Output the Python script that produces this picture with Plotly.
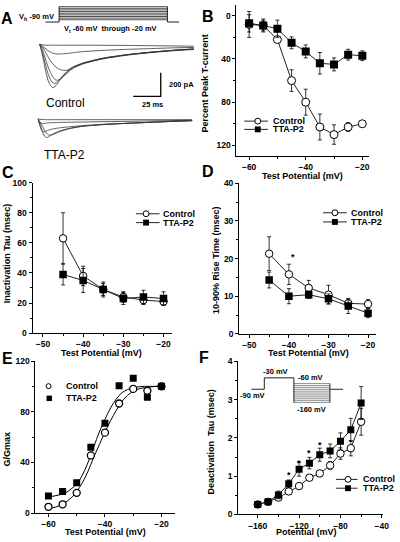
import plotly.graph_objects as go

# ---------------- data ----------------
# Panel A: current traces (time in ms, current in pA)
A_T_CTRL = [0, 2, 4, 6, 8, 10, 12, 14, 16, 18, 20, 24, 28, 32, 40, 50, 60, 80, 100, 120, 140]
A_CTRL_M60 = [0, -3, -6, -8, -8, -8, -8, -8, -8, -8, -8, -8, -8, -8, -8, -8, -9, -10, -12, -14, -17]
A_CTRL_M55 = [0, -10, -25, -40, -55, -66, -75, -80, -83, -83, -82, -79, -75, -70, -62, -56, -51, -43, -37, -31, -27]
A_CTRL_M50 = [0, -15, -40, -75, -110, -140, -165, -185, -200, -212, -219, -222, -212, -195, -165, -140, -120, -92, -72, -56, -44]
A_CTRL_M45 = [0, -30, -80, -140, -195, -240, -275, -298, -306, -300, -290, -255, -222, -195, -162, -137, -116, -89, -69, -53, -41]
A_CTRL_M40 = [0, -45, -115, -190, -255, -300, -325, -333, -325, -305, -285, -245, -212, -190, -160, -135, -115, -88, -68, -52, -40]
A_CTRL_M35 = [0, -60, -150, -240, -310, -350, -367, -360, -340, -310, -280, -240, -205, -185, -158, -134, -114, -88, -68, -52, -40]

A_T_TTA = [0, 2, 4, 6, 8, 10, 14, 20, 28, 40, 60, 80, 100, 120, 140]
A_TTA_1 = [0, -3, -5, -6, -7, -7, -7, -7, -7, -7, -7, -7, -7, -7, -7]
A_TTA_2 = [0, -30, -40, -38, -36, -34, -32, -30, -29, -27, -24, -21, -18, -15, -12]
A_TTA_3 = [0, -60, -105, -110, -102, -95, -85, -76, -68, -58, -46, -38, -30, -22, -15]
A_TTA_4 = [0, -45, -100, -145, -158, -152, -128, -102, -82, -63, -48, -38, -30, -22, -15]
A_TTA_5 = [0, -25, -60, -95, -122, -138, -132, -108, -85, -64, -48, -38, -30, -22, -15]

SCALE_MS = 25
SCALE_PA = 200

# Panel A protocol (schematic)
A_STEP_MV = [-60, -55, -50, -45, -40, -35, -30, -25, -20]
A_PROT_T = [0, 14, 124, 136]   # hold start, step on, step off, end

# Panel B
B_V = [-60, -55, -50, -45, -40, -35, -30, -25, -20]
B_CTRL = [8, 9, 22, 60, 80, 103, 110, 103, 100]
B_CTRL_ERR = [12, 5, 2, 10, 12, 12, 9, 4, 2]
B_TTA = [7, 9, 12, 25, 33, 44, 45, 36, 37]
B_TTA_ERR = [8, 6, 8, 5.5, 6, 10, 6, 5, 4.5]

# Panel C
C_V = [-45, -40, -35, -30, -25, -20]
C_CTRL = [63, 38, 29, 24, 22, 21]
C_CTRL_ERR = [17, 6.5, 5, 3.5, 3, 2.5]
C_TTA = [39, 35, 29, 23, 24, 23]
C_TTA_ERR = [7, 8, 4, 4, 4.5, 4.5]

# Panel D
D_V = [-45, -40, -35, -30, -25, -20]
D_CTRL = [21.3, 15.8, 12.2, 10.4, 8.1, 7.9]
D_CTRL_ERR = [4.5, 2.7, 2, 2.5, 1, 1.2]
D_TTA = [14.3, 10.0, 10.4, 9.3, 7.4, 5.5]
D_TTA_ERR = [2.1, 2, 1, 1.3, 2, 1.2]
D_STAR = (-39, 21.3)

# Panel E
E_V = [-60, -55, -50, -45, -40, -35, -30, -25, -20]
E_CTRL = [5, 7, 16, 45.5, 63.5, 86.5, 98, 96.5, 100]
E_TTA = [13.5, 17, 24, 52, 71, 100.5, 106.5, 91.5, 100]
E_FIT_V = [-60, -58, -56, -54, -52, -50, -48, -46, -44, -42, -40, -38, -36, -34, -32, -30, -28, -26, -24, -22, -20]
E_FIT_CTRL = [3.5, 4.5, 6, 8.5, 12, 17, 24, 33, 44, 54, 64, 73, 81, 88, 93, 96, 98, 99, 99.5, 100, 100]
E_FIT_TTA = [13, 13.5, 14.5, 16, 19, 23, 30, 40, 52, 64, 74, 83, 90, 95, 97.5, 99, 99.7, 100, 100, 100, 100]

# Panel F
F_V = [-160, -150, -140, -130, -120, -110, -100, -90, -80, -70, -60]
F_CTRL = [0.26, 0.33, 0.44, 0.6, 0.74, 0.96, 1.07, 1.28, 1.59, 1.73, 2.42]
F_CTRL_ERR = [0.03, 0.03, 0.05, 0.05, 0.06, 0.06, 0.08, 0.1, 0.15, 0.2, 0.35]
F_TTA = [0.26, 0.33, 0.51, 0.8, 1.18, 1.34, 1.56, 1.66, 1.91, 2.21, 2.91]
F_TTA_ERR = [0.05, 0.05, 0.1, 0.1, 0.18, 0.15, 0.17, 0.18, 0.22, 0.3, 0.43]
F_STAR_X = [-130, -120, -110, -100]
F_STAR_Y = [1.11, 1.43, 1.67, 1.9]

# Panel F inset protocol (mV)
F_HOLD = -90
F_PRE = -30
F_STEPS = [-60, -70, -80, -90, -100, -110, -120, -130, -140, -150, -160]
F_PROT_T = [0, 10, 32.5, 60, 70]

# ---------------- helpers ----------------
W, H = 400, 542
FONT = "Liberation Sans, Arial, Helvetica, sans-serif"
INK = "black"


def px(x):
    return x / W


def py(y):
    return 1 - y / H


annotations = []
shapes = []


def text(t, x, y, size, bold=True, angle=0, xanchor="center", yanchor="middle"):
    annotations.append(dict(
        text=t, x=px(x), y=py(y), xref="paper", yref="paper",
        showarrow=False, textangle=angle, xanchor=xanchor, yanchor=yanchor,
        font=dict(family=FONT, size=size, color=INK, weight="bold" if bold else "normal"),
    ))


def legend_entry(xm, y, sym, label, tx, x0=None, x1=None, size=6):
    if x0 is not None:
        shapes.append(dict(type="line", xref="paper", yref="paper",
                           x0=px(x0), x1=px(x1), y0=py(y), y1=py(y),
                           line=dict(color="#222", width=1)))
    r = size / 2
    if sym == "circle":
        shapes.append(dict(type="circle", xref="paper", yref="paper",
                           x0=px(xm - r), x1=px(xm + r), y0=py(y + r), y1=py(y - r),
                           fillcolor="white", line=dict(color=INK, width=1)))
    else:
        shapes.append(dict(type="rect", xref="paper", yref="paper",
                           x0=px(xm - r), x1=px(xm + r), y0=py(y + r), y1=py(y - r),
                           fillcolor=INK, line=dict(color=INK, width=0)))
    text(label, tx, y, 9, xanchor="left")


def axis(domain, rng, anchor, dtick, tick0, minor_dtick):
    return dict(
        domain=domain, range=rng, anchor=anchor, showline=True, linecolor=INK,
        linewidth=1, ticks="outside", ticklen=3, tickwidth=1, tickcolor=INK,
        showgrid=False, zeroline=False, dtick=dtick, tick0=tick0,
        tickfont=dict(family=FONT, size=8.5, color=INK, weight="bold"),
        minor=dict(dtick=minor_dtick, ticks="outside", ticklen=2, tickwidth=1, tickcolor=INK),
    )


def hidden(domain, rng, anchor):
    return dict(domain=domain, range=rng, anchor=anchor, visible=False, fixedrange=True)


fig = go.Figure()


def series(x, y, err, xa, ya, sym, size, line=True):
    if sym == "circle":
        marker = dict(symbol="circle", size=size, color="white", line=dict(color=INK, width=1))
    else:
        marker = dict(symbol="square", size=size, color=INK, line=dict(color=INK, width=0))
    fig.add_trace(go.Scatter(
        x=x, y=y, xaxis=xa, yaxis=ya,
        mode="lines+markers" if line else "markers",
        line=dict(color="#222", width=1),
        marker=marker,
        error_y=dict(type="data", array=err, color=INK, thickness=0.8, width=2) if err is not None else None,
        showlegend=False, hoverinfo="skip",
    ))


# ---------------- Panel A ----------------
for tr in [A_CTRL_M60, A_CTRL_M55, A_CTRL_M50, A_CTRL_M45, A_CTRL_M40, A_CTRL_M35]:
    fig.add_trace(go.Scatter(x=A_T_CTRL, y=tr, xaxis="x7", yaxis="y7", mode="lines",
                             line=dict(color="#333", width=0.8, shape="spline", smoothing=0.6),
                             showlegend=False, hoverinfo="skip"))
for tr in [A_TTA_1, A_TTA_2, A_TTA_3, A_TTA_4, A_TTA_5]:
    fig.add_trace(go.Scatter(x=A_T_TTA, y=tr, xaxis="x8", yaxis="y8", mode="lines",
                             line=dict(color="#333", width=0.8, shape="spline", smoothing=0.6),
                             showlegend=False, hoverinfo="skip"))

# scale bar (corner position in data units of the control axes)
SB_T, SB_I = 110, -442
fig.add_trace(go.Scatter(x=[SB_T - SCALE_MS, SB_T, SB_T], y=[SB_I, SB_I, SB_I + SCALE_PA],
                         xaxis="x7", yaxis="y7", mode="lines", line=dict(color=INK, width=1.3),
                         showlegend=False, hoverinfo="skip"))

# voltage protocol (schematic; holding level drawn below the step family, axis break)
A_HOLD_DRAW = -67
for v in A_STEP_MV:
    fig.add_trace(go.Scatter(x=[A_PROT_T[1], A_PROT_T[2]], y=[v, v], xaxis="x9", yaxis="y9",
                             mode="lines", line=dict(color="#222", width=0.8),
                             showlegend=False, hoverinfo="skip"))
fig.add_trace(go.Scatter(
    x=[A_PROT_T[0], A_PROT_T[1], A_PROT_T[1], None, A_PROT_T[2], A_PROT_T[2], A_PROT_T[3]],
    y=[A_HOLD_DRAW, A_HOLD_DRAW, max(A_STEP_MV), None, max(A_STEP_MV), A_HOLD_DRAW, A_HOLD_DRAW],
    xaxis="x9", yaxis="y9", mode="lines", line=dict(color="#222", width=1),
    showlegend=False, hoverinfo="skip"))

text("V<sub>h</sub> -90 mV", 37, 12.5, 7.5)
text("V<sub>t</sub> -60 mV\u00a0 through -20 mV", 112, 24, 7.5)
text("200 pA", 184, 81, 7.5)
text("25 ms", 155, 101, 7.5)
text("Control", 66, 100, 12, bold=False)
text("TTA-P2", 65, 153, 12, bold=False)

# ---------------- Panel B ----------------
series(B_V, B_CTRL, B_CTRL_ERR, "x2", "y2", "circle", 8)
series(B_V, B_TTA, B_TTA_ERR, "x2", "y2", "square", 8)
text("Percent Peak T-current", 208, 80, 9, angle=-90)
text("Test Potential (mV)", 307, 174, 9)
legend_entry(261.7, 118.3, "circle", "Control", 275, 248, 272)
legend_entry(261.7, 126.7, "square", "TTA-P2", 275, 248, 272)

# ---------------- Panel C ----------------
series(C_V, C_CTRL, C_CTRL_ERR, "x3", "y3", "circle", 7.5)
series(C_V, C_TTA, C_TTA_ERR, "x3", "y3", "square", 7.5)
text("Inactivation Tau (msec)", 7, 253, 9, angle=-90)
text("Test Potential (mV)", 103, 354.5, 9)
legend_entry(148.3, 212.7, "circle", "Control", 163, 138, 162)
legend_entry(148.3, 221.7, "square", "TTA-P2", 163, 138, 162)

# ---------------- Panel D ----------------
series(D_V, D_CTRL, D_CTRL_ERR, "x4", "y4", "circle", 7.5)
series(D_V, D_TTA, D_TTA_ERR, "x4", "y4", "square", 7.5)
text("10-90% Rise Time (msec)", 220, 260, 9, angle=-90)
text("Test Potential (mV)", 313, 354.5, 9)
legend_entry(340, 211.7, "circle", "Control", 354, 328, 352)
legend_entry(340, 221, "square", "TTA-P2", 354, 328, 352)
annotations.append(dict(text="*", x=D_STAR[0], y=D_STAR[1], xref="x4", yref="y4", showarrow=False,
                        yshift=-3, font=dict(family=FONT, size=9, color=INK, weight="bold")))

# ---------------- Panel E ----------------
fig.add_trace(go.Scatter(x=E_FIT_V, y=E_FIT_CTRL, xaxis="x5", yaxis="y5", mode="lines",
                         line=dict(color=INK, width=1, shape="spline"), showlegend=False, hoverinfo="skip"))
fig.add_trace(go.Scatter(x=E_FIT_V, y=E_FIT_TTA, xaxis="x5", yaxis="y5", mode="lines",
                         line=dict(color=INK, width=1, shape="spline"), showlegend=False, hoverinfo="skip"))
fig.add_trace(go.Scatter(x=E_V, y=E_CTRL, xaxis="x5", yaxis="y5", mode="markers",
                         marker=dict(symbol="circle", size=7, color="white", line=dict(color=INK, width=1.3)),
                         showlegend=False, hoverinfo="skip"))
fig.add_trace(go.Scatter(x=E_V, y=E_TTA, xaxis="x5", yaxis="y5", mode="markers",
                         marker=dict(symbol="square", size=7, color=INK),
                         showlegend=False, hoverinfo="skip"))
text("G/Gmax", 7, 452, 9, angle=-90)
text("Test Potential (mV)", 107, 536.5, 9)
legend_entry(49.3, 388.3, "circle", "Control", 65, size=5)
legend_entry(50, 400.7, "square", "TTA-P2", 65, size=5.5)

# ---------------- Panel F ----------------
series(F_V, F_CTRL, F_CTRL_ERR, "x6", "y6", "circle", 7.5)
series(F_V, F_TTA, F_TTA_ERR, "x6", "y6", "square", 7)
text("Deactivation\u00a0 Tau (msec)", 214, 445, 9, angle=-90)
text("Potential (mV)", 311, 537, 9)
legend_entry(353.3, 483.3, "circle", "Control", 366, 341, 363)
legend_entry(353.3, 492.3, "square", "TTA-P2", 366, 341, 363)
for sx, sy in zip(F_STAR_X, F_STAR_Y):
    annotations.append(dict(text="*", x=sx, y=sy, xref="x6", yref="y6", showarrow=False,
                            yshift=-3, font=dict(family=FONT, size=9, color=INK, weight="bold")))

# inset protocol
for v in F_STEPS:
    fig.add_trace(go.Scatter(x=[F_PROT_T[2], F_PROT_T[3]], y=[v, v], xaxis="x10", yaxis="y10",
                             mode="lines", line=dict(color="#444", width=0.6),
                             showlegend=False, hoverinfo="skip"))
fig.add_trace(go.Scatter(
    x=[F_PROT_T[0], F_PROT_T[1], F_PROT_T[1], F_PROT_T[2], F_PROT_T[2], None,
       F_PROT_T[3], F_PROT_T[3], None, F_PROT_T[3], F_PROT_T[4]],
    y=[F_HOLD, F_HOLD, F_PRE, F_PRE, min(F_STEPS), None,
       max(F_STEPS), min(F_STEPS), None, F_HOLD, F_HOLD],
    xaxis="x10", yaxis="y10", mode="lines", line=dict(color="#222", width=1),
    showlegend=False, hoverinfo="skip"))
text("-30 mV", 280, 373, 7.5)
text("-60 mV", 315, 379, 7.5)
text("-90 mV", 256, 398, 7.5)
text("-160 mV", 316, 412, 7.5)

# panel letters
for letter, lx, ly in [("A", 7, 14), ("B", 211, 12), ("C", 8, 171), ("D", 211, 170),
                       ("E", 7.5, 360), ("F", 207, 359)]:
    text(letter, lx, ly, 16)

# ---------------- layout ----------------
layout = dict(
    width=W, height=H, margin=dict(l=0, r=0, t=0, b=0),
    paper_bgcolor="white", plot_bgcolor="rgba(0,0,0,0)", showlegend=False,
    font=dict(family=FONT, color=INK),
    annotations=annotations, shapes=shapes,
)
layout["xaxis2"] = axis([px(240), px(375)], [-64.5, -17.5], "y2", 20, -60, 10)
layout["yaxis2"] = axis([py(154), py(0)], [130, -10], "x2", 40, 0, 20)
layout["xaxis3"] = axis([px(33), px(175)], [-52.6, -17.8], "y3", 10, -50, 5)
layout["yaxis3"] = axis([py(334.3), py(181)], [0, 100], "x3", 20, 0, 10)
layout["xaxis4"] = axis([px(242.7), px(381.7)], [-52.6, -18.0], "y4", 10, -50, 5)
layout["yaxis4"] = axis([py(335), py(181.7)], [0, 40], "x4", 10, 0, 5)
layout["xaxis5"] = axis([px(36), px(178)], [-64.6, -15.1], "y5", 20, -60, 10)
layout["yaxis5"] = axis([py(517.7), py(362.7)], [0, 120], "x5", 40, 0, 20)
layout["xaxis6"] = axis([px(241.7), px(389)], [-179, -38.7], "y6", 40, -160, 20)
layout["yaxis6"] = axis([py(519), py(363)], [0, 4], "x6", 1, 0, 0.5)
# hidden axes for panel A traces and protocol schematics
layout["xaxis7"] = hidden([px(40), px(200)], [0, 142.86], "y7")
layout["yaxis7"] = hidden([py(100), py(30)], [-500, 83.3], "x7")
layout["xaxis8"] = hidden([px(38.3), px(198.3)], [0, 142.86], "y8")
layout["yaxis8"] = hidden([py(140), py(108)], [-200, 66.7], "x8")
layout["xaxis9"] = hidden([px(46), px(182)], [0, 136], "y9")
layout["yaxis9"] = hidden([py(20), py(0)], [-75, -14.9], "x9")
layout["xaxis10"] = hidden([px(255), px(348.3)], [0, 70], "y10")
layout["yaxis10"] = hidden([py(406), py(378.9)], [-165, -25], "x10")
# the unused primary axes
layout["xaxis"] = dict(visible=False, domain=[0, 0.01])
layout["yaxis"] = dict(visible=False, domain=[0, 0.01])

fig.update_layout(**layout)
fig.write_html(
    "out.html",
    config={"displayModeBar": False, "staticPlot": True},
    post_script="document.body.style.margin='0';document.body.style.overflow='hidden';",
)
